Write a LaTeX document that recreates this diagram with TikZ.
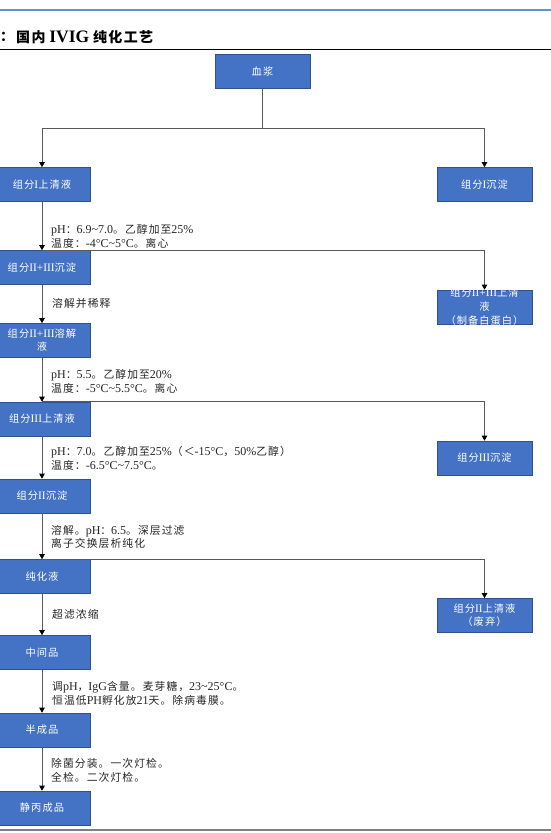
\documentclass[tikz,border=0pt]{standalone}
\usepackage{fontspec}
\setmainfont{Liberation Serif}
\newfontfamily\cjk[LetterSpace=10, Scale=0.9]{Noto Sans CJK SC}
\usetikzlibrary{arrows.meta}
\definecolor{boxblue}{HTML}{4472C4}
\definecolor{boxedge}{HTML}{2F528F}
\definecolor{linegray}{HTML}{595959}
\definecolor{headblue}{HTML}{5B93D3}
\newcommand{\zh}[1]{{\cjk #1}}

\begin{document}
\begin{tikzpicture}[
  x=1pt, y=-1pt,
  font=\fontsize{12}{13.5}\selectfont,
  bx/.style  ={draw=boxedge, fill=boxblue, text=white, line width=0.6pt,
               minimum width=96pt, minimum height=34pt, inner sep=1pt, align=center,
               font=\fontsize{11.4}{13}\selectfont},
  rbx/.style ={bx, minimum width=95pt},
  lbl/.style ={text=white, align=center, inner sep=0pt, font=\fontsize{11.4}{14}\selectfont},
  note/.style={anchor=west, align=left, inner sep=0pt, text=black!85},
  ln/.style  ={draw=linegray, line width=0.7pt},
  ar/.style  ={ln, -{Triangle[length=5pt, width=5.5pt, color=black]}}
]
\useasboundingbox (0,0) rectangle (551,833);

% ---------- header and title ----------
\draw[headblue, line width=1.2pt] (0,10) -- (551,10);
\node[anchor=west, inner sep=0pt, font=\fontsize{15.5}{17}\selectfont\bfseries] (colon) at (0,37)
  {\zh{：}};
\node[anchor=west, inner sep=0pt, font=\fontsize{15.5}{17}\selectfont\bfseries] (title) at (16,37)
  {\zh{国内} {\fontsize{17.5}{17}\selectfont IVIG} \zh{纯化工艺}};
\draw[black, line width=0.8pt] (0,49.5) -- (551,49.5);
\draw[gray, line width=2pt] (0,829.5) -- (551,829.5);

% ---------- main column ----------
\node[bx, minimum width=95pt] (plasma) at (262.5,71.5) {\zh{血浆}};
\node[bx]  (fIsup)    at (42,184.5) {\zh{组分}I\zh{上清液}};
\node[bx]  (fIIIIppt) at (42,267.5) {\zh{组分}II+III\zh{沉淀}};
\node[bx]  (fIIIIsol) at (42,340.5) {\zh{组分}II+III\zh{溶解}\\\zh{液}};
\node[bx]  (fIIIsup)  at (42,419)   {\zh{组分}III\zh{上清液}};
\node[bx]  (fIIppt)   at (42,496)   {\zh{组分}II\zh{沉淀}};
\node[bx]  (pure)     at (42,576.5) {\zh{纯化液}};
\node[bx]  (inter)    at (42,652.5) {\zh{中间品}};
\node[bx]  (semi)     at (42,730)   {\zh{半成品}};
\node[bx]  (final)    at (42,808)   {\zh{静丙成品}};

% ---------- side column ----------
\node[rbx] (fIppt)    at (484.5,184.5) {\zh{组分}I\zh{沉淀}};
\node[rbx] (fIIIIsup) at (484.5,307)   {};
\node[lbl] (fIIIIsupt) at (fIIIIsup.center)
  {\zh{组分}II+III\zh{上清}\\\zh{液}\\\zh{（制备白蛋白）}};
\node[rbx] (fIIIppt)  at (484.5,458)   {\zh{组分}III\zh{沉淀}};
\node[rbx] (fIIsup)   at (484.5,615.5) {\zh{组分}II\zh{上清液}\\\zh{（废弃）}};

% ---------- step notes ----------
\node[note] (n1) at (51,236.5) {pH\zh{：}6.9\textasciitilde7.0\zh{。乙醇加至}25\%\\
  \zh{温度：}-4°C\textasciitilde5°C\zh{。离心}};
\node[note] (n2) at (52,303)   {\zh{溶解并稀释}};
\node[note] (n3) at (51,381.5) {pH\zh{：}5.5\zh{。乙醇加至}20\%\\
  \zh{温度：}-5°C\textasciitilde5.5°C\zh{。离心}};
\node[note] (n4) at (51,458.5) {pH\zh{：}7.0\zh{。乙醇加至}25\%\zh{（＜}-15°C\zh{，}50\%\zh{乙醇）}\\
  \zh{温度：}-6.5°C\textasciitilde7.5°C\zh{。}};
\node[note] (n5) at (51,537)   {\zh{溶解。}pH\zh{：}6.5\zh{。深层过滤}\\
  \zh{离子交换层析纯化}};
\node[note] (n6) at (52,614)   {\zh{超滤浓缩}};
\node[note] (n7) at (52,693.5) {\zh{调}pH\zh{，}IgG\zh{含量。麦芽糖，}23\textasciitilde25°C\zh{。}\\
  \zh{恒温低}PH\zh{孵化放}21\zh{天。除病毒膜。}};
\node[note] (n8) at (51,770.5) {\zh{除菌分装。一次灯检。}\\
  \zh{全检。二次灯检。}};

% ---------- connectors ----------
\draw[ln] (plasma.south) -- ++(0,39.5) coordinate (split);
\draw[ar] (split) -| (fIsup.north);
\draw[ar] (split) -| (fIppt.north);

\draw[ar] (fIsup) -- (fIIIIppt);
\draw[ar] (fIIIIppt.north) -| (fIIIIsup.north);
\draw[ar] (fIIIIppt) -- (fIIIIsol);
\draw[ar] (fIIIIsol) -- (fIIIsup);
\draw[ar] (fIIIsup.north) -| (fIIIppt.north);
\draw[ar] (fIIIsup) -- (fIIppt);
\draw[ar] (fIIppt) -- (pure);
\draw[ar] (pure.north) -| (fIIsup.north);
\draw[ar] (pure) -- (inter);
\draw[ar] (inter) -- (semi);
\draw[ar] (semi) -- (final);
\end{tikzpicture}
\end{document}
